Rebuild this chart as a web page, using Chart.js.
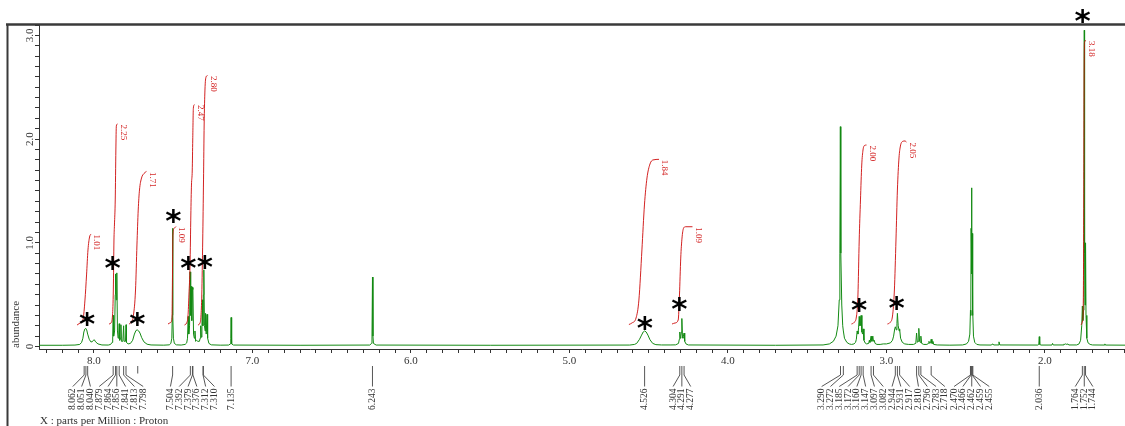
<!DOCTYPE html>
<html><head><meta charset="utf-8">
<script src="https://cdn.jsdelivr.net/npm/chart.js@4"></script>
<style>html,body{margin:0;padding:0;background:#fff;overflow:hidden}</style>
</head><body>
<canvas id="c" width="1125" height="426"></canvas>
<script>
// ---------- DATA ----------
const xMax = 8.347, xMin = 1.495;
const yMin = -0.024, yMax = 3.110;
const xTickValues = [8, 7, 6, 5, 4, 3, 2];
const xTickLabels = ['8.0', '7.0', '6.0', '5.0', '4.0', '3.0', '2.0'];
const yTickValues = [0, 1, 2, 3];
const yTickLabels = ['0', '1.0', '2.0', '3.0'];

// spectrum: [ppm, abundance]
const spectrum = [
[8.347,0.012],[8.20,0.012],[8.12,0.014],[8.09,0.02],[8.078,0.04],[8.070,0.08],[8.064,0.14],[8.058,0.168],[8.052,0.175],[8.046,0.16],[8.040,0.12],[8.030,0.07],[8.020,0.045],[8.012,0.045],[8.004,0.06],[7.998,0.065],[7.990,0.045],[7.975,0.025],[7.95,0.015],[7.91,0.014],
[7.895,0.02],[7.886,0.04],[7.882,0.10],[7.879,0.30],[7.876,0.10],[7.870,0.15],[7.866,0.50],[7.864,0.70],[7.860,0.45],[7.856,0.71],[7.852,0.15],[7.848,0.08],[7.844,0.12],[7.841,0.22],[7.838,0.06],[7.833,0.08],[7.830,0.21],[7.827,0.05],[7.818,0.05],[7.813,0.20],[7.810,0.05],[7.801,0.05],[7.798,0.21],[7.795,0.04],[7.785,0.025],
[7.77,0.03],[7.756,0.06],[7.745,0.12],[7.735,0.155],[7.727,0.16],[7.718,0.15],[7.710,0.13],[7.699,0.085],[7.685,0.045],[7.665,0.022],[7.64,0.015],[7.56,0.013],
[7.525,0.016],[7.515,0.03],[7.509,0.08],[7.506,0.3],[7.504,1.14],[7.502,0.3],[7.499,0.08],[7.493,0.03],[7.48,0.016],[7.45,0.014],
[7.425,0.02],[7.415,0.035],[7.410,0.08],[7.406,0.29],[7.402,0.12],[7.397,0.2],[7.394,0.72],[7.390,0.3],[7.387,0.58],[7.383,0.25],[7.379,0.57],[7.376,0.55],[7.372,0.12],[7.367,0.08],[7.363,0.15],[7.359,0.05],[7.352,0.06],[7.345,0.05],[7.335,0.05],[7.330,0.08],[7.327,0.20],[7.323,0.09],[7.319,0.20],[7.316,0.45],[7.313,0.2],[7.310,0.5],[7.307,0.74],[7.303,0.2],[7.299,0.15],[7.296,0.32],[7.292,0.12],[7.287,0.31],[7.283,0.08],[7.275,0.03],[7.26,0.016],[7.2,0.013],
[7.15,0.014],[7.140,0.025],[7.137,0.08],[7.135,0.28],[7.133,0.08],[7.130,0.025],[7.12,0.014],
[6.70,0.012],
[6.26,0.014],[6.249,0.03],[6.246,0.1],[6.243,0.67],[6.240,0.1],[6.237,0.03],[6.22,0.014],
[5.50,0.012],
[4.62,0.014],[4.59,0.02],[4.576,0.03],[4.558,0.07],[4.545,0.11],[4.535,0.14],[4.526,0.15],[4.516,0.14],[4.505,0.11],[4.492,0.065],[4.475,0.03],[4.455,0.018],[4.42,0.015],[4.36,0.015],
[4.33,0.016],[4.312,0.03],[4.307,0.07],[4.304,0.14],[4.300,0.08],[4.297,0.1],[4.294,0.14],[4.291,0.27],[4.287,0.09],[4.284,0.08],[4.281,0.1],[4.277,0.13],[4.273,0.05],[4.265,0.025],[4.25,0.015],
[3.70,0.012],
[3.40,0.015],[3.36,0.025],[3.335,0.05],[3.318,0.1],[3.306,0.2],[3.298,0.45],[3.294,0.9],[3.291,2.12],[3.288,0.9],[3.282,0.4],[3.276,0.2],[3.272,0.15],[3.265,0.08],[3.25,0.04],[3.235,0.025],[3.22,0.02],
[3.205,0.025],[3.195,0.04],[3.190,0.07],[3.185,0.15],[3.180,0.12],[3.176,0.18],[3.172,0.29],[3.167,0.2],[3.163,0.22],[3.160,0.30],[3.155,0.14],[3.151,0.12],[3.147,0.17],[3.142,0.06],[3.135,0.035],[3.125,0.025],
[3.112,0.03],[3.108,0.06],[3.104,0.04],[3.097,0.10],[3.092,0.05],[3.086,0.10],[3.082,0.05],[3.077,0.06],[3.072,0.03],[3.06,0.02],[3.04,0.02],[3.02,0.025],
[3.00,0.025],[2.975,0.035],[2.962,0.06],[2.955,0.1],[2.948,0.17],[2.944,0.19],[2.938,0.16],[2.934,0.22],[2.931,0.32],[2.926,0.2],[2.920,0.15],[2.917,0.17],[2.911,0.08],[2.90,0.04],[2.885,0.025],[2.86,0.02],
[2.83,0.02],[2.815,0.03],[2.810,0.13],[2.805,0.04],[2.800,0.05],[2.796,0.175],[2.791,0.05],[2.787,0.04],[2.783,0.10],[2.778,0.03],[2.765,0.02],
[2.745,0.02],[2.735,0.03],[2.732,0.05],[2.727,0.03],[2.722,0.035],[2.718,0.07],[2.713,0.03],[2.710,0.03],[2.707,0.05],[2.702,0.02],[2.68,0.015],[2.60,0.013],
[2.52,0.015],[2.495,0.025],[2.482,0.05],[2.474,0.12],[2.470,0.35],[2.468,0.3],[2.466,1.14],[2.464,0.7],[2.462,1.53],[2.4605,0.7],[2.459,1.09],[2.457,0.3],[2.455,0.35],[2.451,0.1],[2.443,0.04],[2.43,0.02],[2.41,0.015],
[2.34,0.014],[2.328,0.025],[2.324,0.015],[2.295,0.015],[2.290,0.045],[2.285,0.015],
[2.045,0.014],[2.039,0.02],[2.036,0.095],[2.033,0.02],[2.025,0.014],
[1.956,0.014],[1.952,0.03],[1.948,0.015],[1.885,0.015],[1.880,0.025],[1.876,0.02],[1.870,0.025],[1.862,0.02],[1.855,0.025],[1.85,0.015],
[1.80,0.015],[1.785,0.025],[1.775,0.06],[1.768,0.2],[1.764,0.39],[1.761,0.25],[1.757,0.35],[1.754,0.9],[1.752,3.05],[1.750,0.9],[1.747,0.4],[1.744,1.0],[1.741,0.3],[1.736,0.08],[1.728,0.035],[1.715,0.02],[1.70,0.015],
[1.625,0.014],[1.622,0.025],[1.619,0.014],[1.495,0.013]
];

// integral curves [ppm, abundance]
const integral1 = [[8.107,0.207],[8.088,0.227],[8.069,0.265],[8.057,0.448],[8.047,0.69],[8.038,0.931],[8.028,1.056],[8.019,1.085]];
const integral2 = [[7.905,0.217],[7.893,0.227],[7.883,0.304],[7.878,0.545],[7.874,1.027],[7.871,1.172],[7.866,1.413],[7.862,1.895],[7.859,2.127],[7.852,2.146]];
const integral3 = [[7.779,0.217],[7.767,0.231],[7.751,0.304],[7.738,0.545],[7.729,0.979],[7.721,1.316],[7.713,1.509],[7.700,1.625],[7.685,1.668],[7.669,1.688]];
const integral4 = [[7.533,0.217],[7.517,0.231],[7.508,0.275],[7.505,0.641],[7.502,1.075],[7.495,1.138],[7.483,1.157]];
const integral5 = [[7.429,0.207],[7.416,0.227],[7.407,0.294],[7.401,0.497],[7.394,0.786],[7.389,1.268],[7.385,1.557],[7.380,1.702],[7.377,1.991],[7.373,2.300],[7.366,2.334]];
const integral6 = [[7.344,0.207],[7.331,0.227],[7.325,0.294],[7.320,0.497],[7.314,1.027],[7.309,1.606],[7.305,2.136],[7.300,2.473],[7.293,2.599],[7.284,2.613]];
const integral7 = [[4.625,0.212],[4.606,0.227],[4.580,0.275],[4.562,0.448],[4.543,0.931],[4.527,1.365],[4.511,1.625],[4.492,1.760],[4.473,1.799],[4.435,1.805]];
const integral8 = [[4.353,0.217],[4.334,0.227],[4.314,0.256],[4.306,0.497],[4.298,0.853],[4.290,1.046],[4.281,1.138],[4.268,1.155],[4.224,1.155]];
const integral9 = [[3.221,0.217],[3.205,0.231],[3.189,0.294],[3.180,0.497],[3.172,1.027],[3.164,1.413],[3.156,1.750],[3.148,1.895],[3.139,1.938],[3.126,1.943]];
const integral10 = [[2.994,0.217],[2.978,0.231],[2.962,0.294],[2.950,0.545],[2.940,1.027],[2.931,1.509],[2.921,1.818],[2.912,1.933],[2.899,1.977],[2.883,1.982],[2.874,1.972]];
const integral11 = [[1.773,0.207],[1.763,0.246],[1.758,0.448],[1.755,1.413],[1.753,2.570],[1.750,2.936],[1.741,2.951]];
const integrals = [integral1, integral2, integral3, integral4, integral5, integral6, integral7, integral8, integral9, integral10, integral11];
const integralLabels = ['1.01', '2.25', '1.71', '1.09', '2.47', '2.80', '1.84', '1.09', '2.00', '2.05', '3.18'];

// peak picking labels (ppm)
const peakLabels = [8.062,8.051,8.040,7.879,7.864,7.856,7.841,7.813,7.798,7.504,7.392,7.379,7.376,7.312,7.310,7.135,6.243,4.526,4.304,4.291,4.277,3.290,3.272,3.185,3.172,3.160,3.147,3.097,3.082,2.944,2.931,2.917,2.810,2.796,2.783,2.718,2.470,2.466,2.462,2.459,2.455,2.036,1.764,1.752,1.744];
const unlabeledMarks = [7.724];

// asterisk annotations
const starPpm = [8.044, 7.882, 7.727, 7.500, 7.405, 7.300, 4.524, 4.307, 3.172, 2.936, 1.762];
const starAbundance = [0.256, 0.802, 0.262, 1.252, 0.802, 0.808, 0.224, 0.407, 0.391, 0.410, 3.18];

const xAxisTitle = 'X : parts per Million : Proton';
const yAxisTitle = 'abundance';

// ---------- CHART ----------
const toXY = a => a.map(p => ({x: p[0], y: p[1]}));
const GREEN = '#138a13';
const RED = 'rgba(205,10,10,0.9)';
const TXT = '#333';

const datasets = [{
  data: toXY(spectrum), borderColor: GREEN, borderWidth: 1, pointRadius: 0, tension: 0, order: 1
}];
integrals.forEach(a => datasets.push({
  data: toXY(a), borderColor: RED, borderWidth: 1, pointRadius: 0,
  cubicInterpolationMode: 'monotone', order: 0
}));

function layoutLabels(ideal, s) {
  let cl = ideal.map((x, i) => ({start: i, n: 1, sum: x}));
  let changed = true;
  while (changed) {
    changed = false;
    for (let i = 0; i < cl.length - 1; i++) {
      const a = cl[i], b = cl[i + 1];
      const aR = a.sum / a.n + (a.n - 1) * s / 2;
      const bL = b.sum / b.n - (b.n - 1) * s / 2;
      if (bL - aR < s) { a.n += b.n; a.sum += b.sum; cl.splice(i + 1, 1); changed = true; break; }
    }
  }
  const pos = [];
  cl.forEach(c => {
    const c0 = c.sum / c.n - (c.n - 1) * s / 2;
    for (let k = 0; k < c.n; k++) pos[c.start + k] = c0 + k * s;
  });
  return pos;
}

const decor = {
  id: 'decor',
  afterDraw(chart) {
    const ctx = chart.ctx, xs = chart.scales.x, ys = chart.scales.y;
    ctx.save();
    // page frame
    ctx.strokeStyle = '#3a3a3a';
    ctx.lineWidth = 2.6;
    ctx.beginPath(); ctx.moveTo(6, 24.5); ctx.lineTo(1125, 24.5); ctx.stroke();
    ctx.lineWidth = 2;
    ctx.beginPath(); ctx.moveTo(7.5, 24); ctx.lineTo(7.5, 426); ctx.stroke();

    // y tick labels (rotated)
    ctx.fillStyle = TXT;
    ctx.font = '11px "Liberation Serif"';
    yTickValues.forEach((v, i) => {
      ctx.save();
      ctx.translate(30, ys.getPixelForValue(v));
      ctx.rotate(-Math.PI / 2);
      ctx.textAlign = 'center'; ctx.textBaseline = 'middle';
      ctx.fillText(yTickLabels[i], 0, 0);
      ctx.restore();
    });
    // y title
    ctx.save();
    ctx.translate(16, 348);
    ctx.rotate(-Math.PI / 2);
    ctx.textAlign = 'left'; ctx.textBaseline = 'middle';
    ctx.fillText(yAxisTitle, 0, 0);
    ctx.restore();
    // x title
    ctx.textAlign = 'left'; ctx.textBaseline = 'middle';
    ctx.fillText(xAxisTitle, 40, 421);

    // peak labels with leader lines
    const ideal = peakLabels.map(v => xs.getPixelForValue(v));
    const pos = layoutLabels(ideal, 8.8);
    ctx.strokeStyle = '#444'; ctx.lineWidth = 0.9;
    ctx.beginPath();
    peakLabels.forEach((v, i) => {
      const px = ideal[i], lx = pos[i];
      if (Math.abs(px - lx) < 0.6) {
        ctx.moveTo(px, 366); ctx.lineTo(px, 386.5);
      } else {
        ctx.moveTo(px, 366); ctx.lineTo(px, 375); ctx.lineTo(lx, 386.5);
      }
    });
    unlabeledMarks.forEach(v => {
      const px = xs.getPixelForValue(v);
      ctx.moveTo(px, 366); ctx.lineTo(px, 373.5);
    });
    ctx.stroke();
    ctx.fillStyle = TXT;
    ctx.font = '9.5px "Liberation Serif"';
    peakLabels.forEach((v, i) => {
      ctx.save();
      ctx.translate(pos[i], 388.5);
      ctx.rotate(-Math.PI / 2);
      ctx.textAlign = 'right'; ctx.textBaseline = 'middle';
      ctx.fillText(v.toFixed(3), 0, 0);
      ctx.restore();
    });

    // integral labels
    ctx.fillStyle = '#d42a2a';
    ctx.font = '9px "Liberation Serif"';
    integrals.forEach((a, i) => {
      const last = a[a.length - 1];
      const x = xs.getPixelForValue(last[0]) + 5.5;
      const y = ys.getPixelForValue(last[1]) + 0.5;
      ctx.save();
      ctx.translate(x, y);
      ctx.rotate(Math.PI / 2);
      ctx.textAlign = 'left'; ctx.textBaseline = 'middle';
      ctx.fillText(integralLabels[i], 0, 0);
      ctx.restore();
    });

    // asterisks
    ctx.fillStyle = '#000';
    ctx.font = 'bold 31px "DejaVu Sans"';
    ctx.textAlign = 'center'; ctx.textBaseline = 'alphabetic';
    const m = ctx.measureText('*');
    const off = (m.actualBoundingBoxAscent - m.actualBoundingBoxDescent) / 2;
    starPpm.forEach((v, i) => {
      ctx.fillText('*', xs.getPixelForValue(v), ys.getPixelForValue(starAbundance[i]) + off);
    });
    ctx.restore();
  }
};

new Chart(document.getElementById('c'), {
  type: 'line',
  data: {datasets},
  options: {
    responsive: false, animation: false, devicePixelRatio: 1,
    events: [],
    layout: {padding: {top: 24, left: 0, right: 0, bottom: 0}},
    plugins: {legend: {display: false}, tooltip: {enabled: false}},
    scales: {
      x: {
        type: 'linear', reverse: true, min: xMin, max: xMax, position: 'bottom',
        afterFit: s => { s.height = 77; },
        afterBuildTicks: s => {
          const t = [];
          for (let k = Math.ceil(xMin * 10); k <= Math.floor(xMax * 10); k++) t.push({value: k / 10});
          s.ticks = t;
        },
        grid: {drawOnChartArea: false, drawTicks: true, tickLength: 4, color: '#333', tickColor: '#333', tickWidth: 1},
        border: {display: true, color: '#333', width: 1},
        ticks: {
          autoSkip: false, maxRotation: 0, minRotation: 0, padding: 2,
          color: TXT, font: {family: '"Liberation Serif"', size: 11},
          callback: v => { const i = xTickValues.findIndex(m => Math.abs(m - v) < 1e-6); return i >= 0 ? xTickLabels[i] : ''; }
        }
      },
      y: {
        type: 'linear', min: yMin, max: yMax, position: 'left',
        afterFit: s => { s.width = 39; },
        afterBuildTicks: s => {
          const t = [];
          for (let k = Math.ceil(yMin * 10); k <= Math.floor(yMax * 10); k++) t.push({value: k / 10});
          s.ticks = t;
        },
        grid: {drawOnChartArea: false, drawTicks: true, tickLength: 4, color: '#333', tickColor: '#333', tickWidth: 1},
        border: {display: true, color: '#333', width: 1},
        ticks: {display: false}
      }
    }
  },
  plugins: [decor]
});
</script>
</body></html>
